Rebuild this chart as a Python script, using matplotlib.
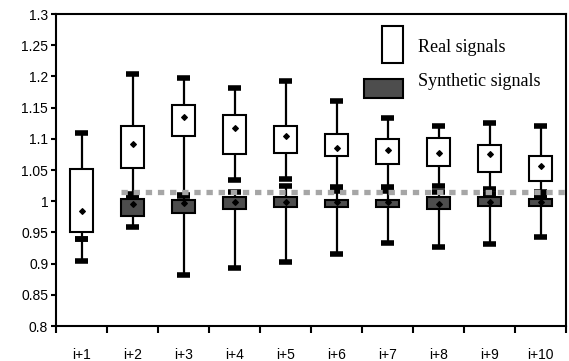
import matplotlib
matplotlib.use("Agg")
import matplotlib.pyplot as plt
import numpy as np
from matplotlib.patches import Rectangle

categories = ["i+1", "i+2", "i+3", "i+4", "i+5", "i+6", "i+7", "i+8", "i+9", "i+10"]

# Real signals
real_min  = [0.939, 1.012, 1.008, 1.034, 1.035, 1.022, 1.023, 1.025, 1.019, 1.014]
real_q1   = [0.951, 1.054, 1.104, 1.075, 1.078, 1.072, 1.060, 1.056, 1.046, 1.033]
real_mean = [0.985, 1.092, 1.135, 1.117, 1.104, 1.086, 1.082, 1.078, 1.075, 1.056]
real_q3   = [1.051, 1.121, 1.154, 1.138, 1.121, 1.108, 1.099, 1.102, 1.090, 1.072]
real_max  = [1.109, 1.204, 1.197, 1.181, 1.193, 1.160, 1.133, 1.121, 1.126, 1.121]

# Synthetic signals
syn_min  = [0.904, 0.958, 0.882, 0.893, 0.903, 0.915, 0.933, 0.927, 0.931, 0.942]
syn_q1   = [np.nan, 0.976, 0.981, 0.987, 0.990, 0.990, 0.990, 0.987, 0.993, 0.993]
syn_mean = [np.nan, 0.995, 0.997, 0.999, 0.999, 0.998, 0.998, 0.996, 0.999, 0.998]
syn_q3   = [np.nan, 1.003, 1.002, 1.006, 1.006, 1.002, 1.002, 1.006, 1.007, 1.003]
syn_max  = [0.939, 1.008, 1.010, 1.015, 1.024, 1.016, 1.016, 1.015, 1.012, 1.008]

threshold = 1.015
yticks = [0.8, 0.85, 0.9, 0.95, 1.0, 1.05, 1.1, 1.15, 1.2, 1.25, 1.3]

fig = plt.figure(figsize=(5.69, 3.61), dpi=100)
ax = fig.add_axes([56/569, 35/361, 510/569, 312/361])

x = np.arange(len(categories))
bw = 0.46
capw = 0.12

def draw(mins, q1, mean, q3, maxs, face, z):
    mins = np.array(mins); maxs = np.array(maxs)
    q1 = np.array(q1); q3 = np.array(q3); mean = np.array(mean)
    ax.vlines(x, mins, maxs, colors="black", lw=1.6, zorder=z)
    ax.hlines(mins, x - capw, x + capw, colors="black", lw=4, zorder=z + 0.5)
    ax.hlines(maxs, x - capw, x + capw, colors="black", lw=4, zorder=z + 0.5)
    m = ~np.isnan(q1)
    ax.bar(x[m], (q3 - q1)[m], bottom=q1[m], width=bw, facecolor=face,
           edgecolor="black", linewidth=1.5, zorder=z + 1)
    ax.scatter(x[m], mean[m], marker="D", s=8, color="black", zorder=z + 2)

draw(real_min, real_q1, real_mean, real_q3, real_max, "white", 2)
draw(syn_min, syn_q1, syn_mean, syn_q3, syn_max, "#4d4d4d", 5)

ax.hlines(threshold, 0.77, 9.5, colors="#a6a6a6", lw=3.8,
          linestyles=(0, (1.2, 1.1)), zorder=10)

ax.set_xlim(-0.5, len(categories) - 0.5)
ax.set_ylim(0.8, 1.3)
ax.set_yticks(yticks)
ax.set_yticklabels(["%g" % v for v in yticks])
ax.set_xticks(x)
ax.set_xticklabels(categories)
ax.set_xticks(np.arange(-0.5, len(categories)), minor=True)
ax.tick_params(axis="x", which="major", length=0, pad=16)
ax.tick_params(axis="x", which="minor", length=5, width=1.5, direction="out")
ax.tick_params(axis="y", length=3.6, width=1.5, pad=2)
for lab in ax.get_xticklabels() + ax.get_yticklabels():
    lab.set_fontfamily("Liberation Sans")
    lab.set_fontsize(10)
for s in ax.spines.values():
    s.set_linewidth(1.5)

# Legend
fig.patches.append(Rectangle((382/569, (361-63)/361), 21/569, 37/361,
                             transform=fig.transFigure, facecolor="white",
                             edgecolor="black", linewidth=1.5, zorder=20))
fig.patches.append(Rectangle((364/569, (361-98)/361), 39/569, 19/361,
                             transform=fig.transFigure, facecolor="#4d4d4d",
                             edgecolor="black", linewidth=1.5, zorder=20))
fig.text(418/569, (361-47)/361, "Real signals", family="Liberation Serif",
         fontsize=13, va="center", ha="left")
fig.text(418/569, (361-81.5)/361, "Synthetic signals", family="Liberation Serif",
         fontsize=13, va="center", ha="left")

fig.savefig("out.png", dpi=100)
